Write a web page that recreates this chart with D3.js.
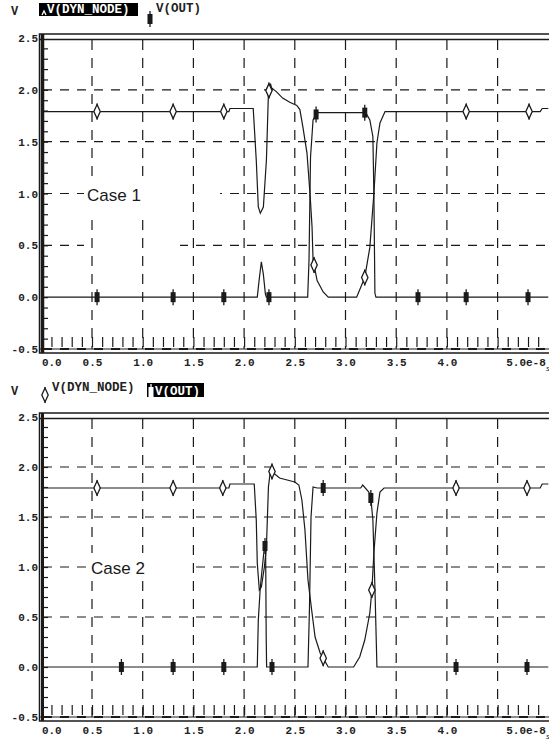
<!DOCTYPE html>
<html>
<head>
<meta charset="utf-8">
<script src="https://cdn.jsdelivr.net/npm/d3@7"></script>
<style>
body{margin:0;background:#fff}
svg{display:block}
.lbl{font-family:"Liberation Mono",monospace;font-weight:bold;font-size:11px;fill:#222}
</style>
</head>
<body>
<svg width="549" height="744"></svg>
<script>
// time in units of 1e-8 s, voltage in V
var xTicks = [0.0,0.5,1.0,1.5,2.0,2.5,3.0,3.5,4.0,4.5,5.0];
var xTickLabels = ["0.0","0.5","1.0","1.5","2.0","2.5","3.0","3.5","4.0","","5.0e-8"];
var yTicks = [-0.5,0.0,0.5,1.0,1.5,2.0,2.5];
var yTickLabels = ["-0.5","0.0","0.5","1.0","1.5","2.0","2.5"];
var gridX = [0.5,1.0,1.5,2.0,2.5,3.0,3.5,4.0,4.5];
var gridY = [-0.5,0.5,1.0,1.5,2.0];

// Case 1
var case1Dyn = [[0,1.79],[1.85,1.79],[1.86,1.82],[2.09,1.82],[2.12,1.32],[2.14,0.87],[2.16,0.81],[2.19,0.87],
  [2.22,1.32],[2.24,1.97],[2.26,2.06],[2.27,2.02],[2.32,1.98],[2.38,1.92],[2.45,1.88],[2.52,1.85],[2.55,1.81],
  [2.58,1.64],[2.62,1.39],[2.65,1.0],[2.67,0.68],[2.68,0.36],[2.72,0.16],[2.78,0.05],[2.83,0.0],
  [3.11,0.0],[3.19,0.19],[3.24,0.48],[3.28,1.0],[3.31,1.49],[3.34,1.68],[3.39,1.79],[4.92,1.79],[4.94,1.82],[5.0,1.82]];
var case1Out = [[0,0],[2.13,0],[2.15,0.18],[2.17,0.34],[2.19,0.22],[2.21,0.03],[2.22,0],[2.627,0],[2.64,0.35],
  [2.655,1.35],[2.68,1.71],[2.72,1.78],[3.2,1.78],[3.24,1.71],[3.27,1.55],[3.28,1.0],[3.29,0.04],[3.3,0],[5.0,0]];
var case1DynMarks = [0.55,1.30,1.80,2.245,2.69,3.19,4.19,4.81];
var case1OutMarks = [0.55,1.30,1.80,2.245,2.71,3.19,3.715,4.19,4.80];

// Case 2
var case2Dyn = [[0,1.79],[1.85,1.79],[1.86,1.83],[2.10,1.83],[2.12,1.47],[2.13,1.04],[2.15,0.77],[2.17,0.8],
  [2.20,1.0],[2.22,1.2],[2.24,1.8],[2.26,1.97],[2.29,1.94],[2.35,1.89],[2.50,1.85],[2.54,1.82],[2.57,1.67],
  [2.60,1.37],[2.63,0.87],[2.67,0.54],[2.70,0.3],[2.75,0.14],[2.79,0.07],[2.83,0.0],
  [3.08,0.0],[3.14,0.1],[3.19,0.27],[3.24,0.54],[3.26,0.77],[3.28,1.14],[3.31,1.54],[3.34,1.75],[3.38,1.79],
  [4.92,1.79],[4.94,1.83],[5.0,1.83]];
var case2Out = [[0,0],[2.13,0],[2.14,0.47],[2.16,0.8],[2.18,1.0],[2.20,1.2],[2.212,1.22],[2.218,0.3],[2.222,0],
  [2.63,0],[2.645,0.6],[2.66,1.5],[2.68,1.8],[2.72,1.79],[3.15,1.79],[3.17,1.82],[3.23,1.75],[3.25,1.69],
  [3.27,1.47],[3.29,0.8],[3.31,0.0],[5.0,0]];
var case2DynMarks = [0.55,1.30,1.79,2.275,2.78,3.26,4.09,4.79];
var case2OutMarks = [0.79,1.30,1.80,2.206,2.275,2.78,3.25,4.09,4.79];

var svg = d3.select("svg");
var x = d3.scaleLinear().domain([0,5]).range([41.3,548.3]);
var ink = "#1a1a1a";

function valueAt(series, t) {
  var i = d3.bisector(function(d){ return d[0]; }).left(series, t);
  if (i <= 0) return series[0][1];
  if (i >= series.length) return series[series.length-1][1];
  var a = series[i-1], b = series[i];
  return a[1] + (b[1]-a[1]) * (t-a[0]) / (b[0]-a[0]);
}

function diamond(g, cx, cy, col) {
  g.append("line").attr("x1",cx).attr("x2",cx).attr("y1",cy-8).attr("y2",cy+8)
    .attr("stroke",col||ink).attr("stroke-width",1.2);
  g.append("path")
    .attr("d","M"+cx+","+(cy-7)+"L"+(cx+3.2)+","+cy+"L"+cx+","+(cy+7)+"L"+(cx-3.2)+","+cy+"Z")
    .attr("fill","#fff").attr("stroke",col||ink).attr("stroke-width",1.3);
}
function block(g, cx, cy, col) {
  g.append("line").attr("x1",cx).attr("x2",cx).attr("y1",cy-8).attr("y2",cy+8)
    .attr("stroke",col||ink).attr("stroke-width",1.3);
  g.append("rect").attr("x",cx-2.5).attr("y",cy-5).attr("width",5).attr("height",10).attr("fill",col||ink);
}

function drawPanel(p) {
  var y = d3.scaleLinear().domain([-0.5,2.5]).range([p.yBot,p.yTop]);
  var g = svg.append("g");

  // frame
  g.append("rect").attr("x",39.5).attr("y",p.yTop-4).attr("width",520).attr("height",p.yBot-p.yTop+8)
    .attr("fill","none").attr("stroke",ink).attr("stroke-width",1.5);
  g.append("line").attr("x1",40).attr("x2",549).attr("y1",p.yTop+1.5).attr("y2",p.yTop+1.5)
    .attr("stroke",ink).attr("stroke-width",1.5);
  g.append("line").attr("x1",40).attr("x2",549).attr("y1",p.yBot).attr("y2",p.yBot)
    .attr("stroke",ink).attr("stroke-width",1);
  g.append("line").attr("x1",42.5).attr("x2",42.5).attr("y1",p.yTop-4).attr("y2",p.yBot+4)
    .attr("stroke",ink).attr("stroke-width",p.axisW);

  // horizontal grid, partly hidden next to the case label
  g.selectAll(".hg").data(gridY).enter().append("line")
    .attr("x1",43).attr("x2",549)
    .attr("y1",function(d){ return y(d); }).attr("y2",function(d){ return y(d); })
    .attr("stroke",ink).attr("stroke-width",function(d){ return d < 0 ? 2.2 : 1.2; })
    .attr("stroke-dasharray","9,8");
  p.hide.forEach(function(h){
    g.append("rect").attr("x",h[1]).attr("y",y(h[0])-3).attr("width",h[2]-h[1]).attr("height",6).attr("fill","#fff");
  });
  // vertical grid
  g.selectAll(".vg").data(gridX).enter().append("line")
    .attr("x1",function(d){ return x(d); }).attr("x2",function(d){ return x(d); })
    .attr("y1",p.yTop+2).attr("y2",p.yBot)
    .attr("stroke",ink).attr("stroke-width",1.2).attr("stroke-dasharray","10,8");

  // minor ticks
  g.append("g").attr("transform","translate(0,"+(p.yBot-2)+")")
    .call(d3.axisTop(x).tickValues(d3.range(1,50).map(function(i){ return i/10; })).tickSize(10).tickFormat(""))
    .call(function(s){ s.select(".domain").remove(); s.selectAll("line").attr("stroke",ink).attr("stroke-width",1.2); });
  g.append("g").attr("transform","translate(43,0)")
    .call(d3.axisRight(y).tickValues(d3.range(-4,25).map(function(i){ return i/10; })).tickSize(5).tickFormat(""))
    .call(function(s){ s.select(".domain").remove(); s.selectAll("line").attr("stroke",ink).attr("stroke-width",1.2); });

  // labels
  g.append("g").attr("transform","translate(38,0)")
    .call(d3.axisLeft(y).tickValues(yTicks).tickSize(0).tickPadding(0)
      .tickFormat(function(d,i){ return yTickLabels[i]; }))
    .call(function(s){ s.select(".domain").remove(); s.selectAll("text").attr("class","lbl"); });
  g.append("g").attr("transform","translate(0,"+(p.yBot+5)+")")
    .call(d3.axisBottom(x).tickValues(xTicks).tickSize(0).tickPadding(4)
      .tickFormat(function(d,i){ return xTickLabels[i]; }))
    .call(function(s){
      s.select(".domain").remove();
      s.selectAll("text").attr("class","lbl");
      s.selectAll("text").filter(function(d){ return d === 0; }).attr("dx",10);
      s.selectAll("text").filter(function(d){ return d === 5; }).attr("text-anchor","end").attr("dx",-3);
    });
  g.append("text").attr("x",546).attr("y",p.yBot+22).attr("font-family","Liberation Sans")
    .attr("font-size",8).attr("font-style","italic").attr("fill",ink).text("s");

  // case label
  g.append("rect").attr("x",p.box[0]).attr("y",y(1.0)-p.box[2]).attr("width",p.box[1]-p.box[0])
    .attr("height",p.box[2]+p.box[3]).attr("fill","#fff");
  g.append("text").attr("x",p.caseX).attr("y",y(1.0)+7).attr("font-family","Liberation Sans")
    .attr("font-size",17).attr("fill",ink).text(p.caseText);

  // traces
  var line = d3.line().x(function(d){ return x(d[0]); }).y(function(d){ return y(d[1]); });
  g.append("path").datum(p.dyn).attr("d",line).attr("fill","none").attr("stroke",ink).attr("stroke-width",1.2);
  g.append("path").datum(p.out).attr("d",line).attr("fill","none").attr("stroke",ink).attr("stroke-width",1.2);
  p.dynMarks.forEach(function(t){ diamond(g, x(t), y(valueAt(p.dyn,t))); });
  p.outMarks.forEach(function(t){ block(g, x(t), y(valueAt(p.out,t))); });

  // legend
  var ly = p.legendY;
  g.append("text").attr("x",11).attr("y",ly+15).attr("class","lbl").style("font-size","12px").text("V");
  if (p.hiDyn) {
    g.append("rect").attr("x",39).attr("y",ly+3).attr("width",99).attr("height",13).attr("fill","#000");
    g.append("path").attr("d","M42,"+(ly+15)+"L44,"+(ly+11)+"L46,"+(ly+15)).attr("fill","none").attr("stroke","#fff").attr("stroke-width",1.3);
    g.append("text").attr("x",47).attr("y",ly+13).attr("class","lbl").style("fill","#fff").style("font-size","12.5px").text("V(DYN_NODE)");
    block(g, 150, ly+19);
    g.append("text").attr("x",156).attr("y",ly+12).attr("class","lbl").style("font-size","12.5px").text("V(OUT)");
  } else {
    diamond(g, 45, ly+15);
    g.append("text").attr("x",52).attr("y",ly+11).attr("class","lbl").style("font-size","12.5px").text("V(DYN_NODE)");
    g.append("rect").attr("x",147).attr("y",ly+3).attr("width",57).attr("height",14).attr("fill","#000");
    block(g, 151, ly+12, "#fff");
    g.append("text").attr("x",155).attr("y",ly+15).attr("class","lbl").style("fill","#fff").style("font-size","12.5px").text("V(OUT)");
  }
}

drawPanel({yTop:38, yBot:349, axisW:3.5, legendY:0, hiDyn:true,
  dyn:case1Dyn, out:case1Out, dynMarks:case1DynMarks, outMarks:case1OutMarks,
  caseText:"Case 1", caseX:87, box:[84,150,14,20], hide:[[1.0,84,220],[0.5,84,180]]});
drawPanel({yTop:417, yBot:717, axisW:3, legendY:380, hiDyn:false,
  dyn:case2Dyn, out:case2Out, dynMarks:case2DynMarks, outMarks:case2OutMarks,
  caseText:"Case 2", caseX:91, box:[88,150,14,14], hide:[[1.0,88,190]]});
</script>
</body>
</html>
